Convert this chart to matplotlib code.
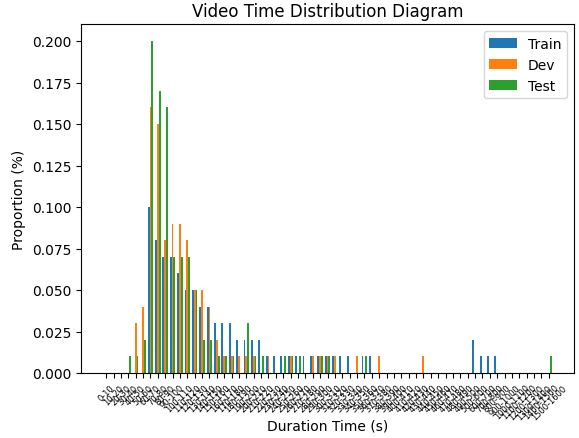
import matplotlib
matplotlib.use('Agg')
import matplotlib.pyplot as plt
import numpy as np

LABELS = [
    '0-10', '10-20', '20-30', '30-40', '40-50', '50-60', '60-70', '70-80', '80-90', '90-100',
    '100-110', '110-120', '120-130', '130-140', '140-150', '150-160', '160-170', '170-180', '180-190', '190-200',
    '200-210', '210-220', '220-230', '230-240', '240-250', '250-260', '260-270', '270-280', '280-290', '290-300',
    '300-310', '310-320', '320-330', '330-340', '340-350', '350-360', '360-370', '370-380', '380-390', '390-400',
    '400-410', '410-420', '420-430', '430-440', '440-450', '450-460', '460-470', '470-480', '480-490', '490-500',
    '500-600', '600-700', '700-800', '800-900', '900-1000',
    '1000-1100', '1100-1200', '1200-1300', '1300-1400', '1400-1500', '1500-1600',
]

TRAIN = [
    0, 0, 0, 0, 0, 0, 0.10, 0.08, 0.07, 0.07,
    0.06, 0.05, 0.05, 0.04, 0.04, 0.03, 0.03, 0.03, 0.02, 0.02,
    0.02, 0.02, 0.01, 0.01, 0.01, 0.01, 0.01, 0.01, 0.01, 0.01,
    0.01, 0.01, 0.01, 0.01, 0, 0.01, 0.01, 0, 0, 0,
    0, 0, 0, 0, 0, 0, 0, 0, 0, 0,
    0.02, 0.01, 0.01, 0.01, 0,
    0, 0, 0, 0, 0, 0,
]
DEV = [
    0, 0, 0, 0, 0.03, 0.04, 0.16, 0.15, 0.08, 0.09,
    0.09, 0.08, 0.05, 0.05, 0.04, 0.02, 0.01, 0.01, 0.01, 0.01,
    0.01, 0, 0.01, 0, 0, 0.01, 0, 0, 0.01, 0.01,
    0.01, 0.01, 0, 0, 0.01, 0, 0, 0.01, 0, 0,
    0, 0, 0, 0.01, 0, 0, 0, 0, 0, 0,
    0, 0, 0, 0, 0,
    0, 0, 0, 0, 0, 0,
]
TEST = [
    0, 0, 0, 0.01, 0.01, 0.02, 0.20, 0.17, 0.16, 0.07,
    0.07, 0.07, 0.05, 0.02, 0.02, 0.01, 0.01, 0.01, 0, 0.03,
    0.01, 0.01, 0, 0, 0.01, 0.01, 0.01, 0, 0, 0.01,
    0.01, 0, 0, 0, 0, 0.01, 0, 0, 0, 0,
    0, 0, 0, 0, 0, 0, 0, 0, 0, 0,
    0, 0, 0, 0, 0,
    0, 0, 0, 0, 0, 0.01,
]


def main() -> None:
    fig = plt.figure(figsize=(5.79, 4.39), dpi=100)
    ax = fig.add_axes([81 / 579, 65 / 439, 493 / 579, 348.6 / 439])

    x = np.arange(len(LABELS))
    width = 0.25
    ax.bar(x - width, TRAIN, width, label='Train', color='C0')
    ax.bar(x, DEV, width, label='Dev', color='C1')
    ax.bar(x + width, TEST, width, label='Test', color='C2')

    ax.set_xticks(x)
    ax.set_xticklabels(LABELS, rotation=45, fontsize=6)
    ax.set_xlabel('Duration Time (s)', labelpad=-2)
    ax.set_ylabel('Proportion (%)')
    ax.set_title('Video Time Distribution Diagram')
    ax.legend()

    fig.savefig('out.png', dpi=100)


if __name__ == '__main__':
    main()
